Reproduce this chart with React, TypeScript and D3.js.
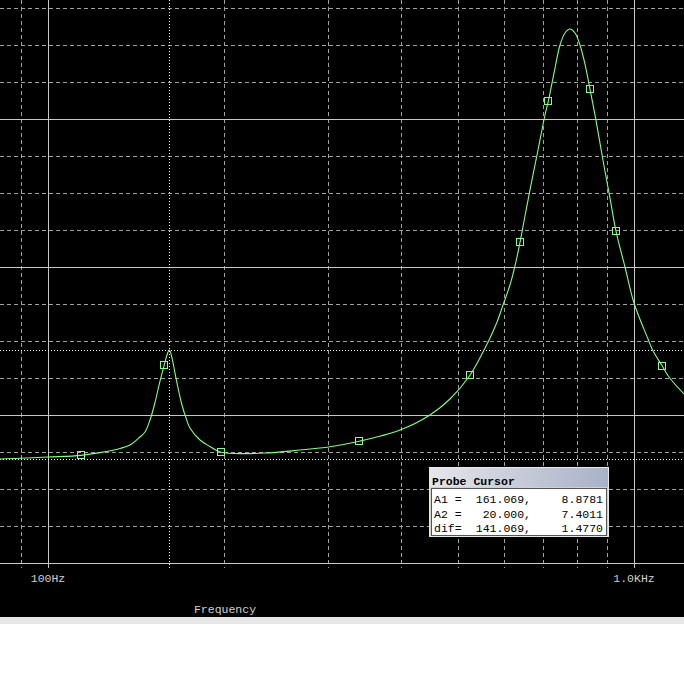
import { useEffect, useRef } from 'react';
import * as d3 from 'd3';

// trace data (Hz, value)
const freqs = [
  82.8, 100, 113.9, 122.7, 132.7, 138.0, 143.5, 146.4, 149.3, 152.2, 154.7, 157.9,
  159.6, 161.07, 162.8, 164.7, 166.7, 169.3, 172.0, 174.7, 181.7, 189.0, 197.4, 234.6,
  269.2, 302.9, 339.8, 398.8, 448.6, 485.3, 525.0, 552.5, 567.9, 583.8, 597.7, 614.3,
  626.5, 639.0, 651.6, 664.5, 685.8, 704.9, 714.2, 733.2, 747.7, 762.5, 777.7, 793.1,
  808.7, 824.8, 841.1, 861.2, 885.1, 910.0, 931.7, 965.3, 1000, 1056.6, 1077.8, 1117.7,
  1147.4, 1217.0,
];
const values = [
  7.405, 7.432, 7.455, 7.491, 7.547, 7.595, 7.703, 7.77, 7.932, 8.162, 8.405, 8.676,
  8.811, 8.878, 8.77, 8.568, 8.365, 8.135, 7.959, 7.824, 7.662, 7.574, 7.496, 7.486,
  7.527, 7.572, 7.645, 7.797, 8.0, 8.216, 8.538, 8.851, 9.041, 9.257, 9.486, 9.757,
  10.014, 10.334, 10.689, 11.041, 11.581, 12.054, 12.243, 12.689, 13.0, 13.162, 13.216, 13.162,
  13.0, 12.743, 12.405, 11.986, 11.446, 10.932, 10.486, 10.0, 9.514, 9.027, 8.865, 8.662,
  8.514, 8.284,
];
const markerFreqs = [113.9, 157.9, 197.4, 339.8, 525.0, 639.0, 714.2, 841.1, 931.7, 1117.7];

const cursorNames = ['A1', 'A2'];
const cursorFreqs = [161.069, 20.0];
const cursorValues = [8.8781, 7.4011];

const xTickFreqs = [100, 1000];
const xTickLabels = ['100Hz', '1.0KHz'];
const xTitle = 'Frequency';

const W = 684;
const H = 687;
const GREEN = '#80ff80';
const MONO = '"Liberation Mono", "DejaVu Sans Mono", monospace';

export default function App() {
  const ref = useRef<SVGSVGElement>(null);

  useEffect(() => {
    if (!ref.current) return;
    const svg = d3.select(ref.current);
    svg.selectAll('*').remove();

    const x = d3.scaleLog().domain([100, 1000]).range([48, 634]);
    const y = d3.scaleLinear().domain([6, 14]).range([563, -29]);
    const axisY = y(6);

    // window background
    svg.append('rect').attr('width', W).attr('height', 617).attr('fill', '#000');
    svg.append('rect').attr('y', 617).attr('width', W).attr('height', 7).attr('fill', '#e6e6e6');

    const grid = svg.append('g').attr('shape-rendering', 'crispEdges');

    // vertical grid, 1-2-..-9 per decade
    const gridFreqs: number[] = [];
    [10, 100, 1000].forEach(d => d3.range(1, 10).forEach(k => gridFreqs.push(k * d)));
    gridFreqs
      .filter(f => x(f) >= 0 && x(f) <= W)
      .forEach(f => {
        const major = xTickFreqs.includes(f);
        const px = Math.round(x(f)) + 0.5;
        grid.append('line')
          .attr('x1', px).attr('x2', px).attr('y1', 0).attr('y2', axisY + 5)
          .attr('stroke', major ? '#c8c8c8' : '#a0a0a0')
          .attr('stroke-dasharray', major ? null : '4,3');
      });

    // horizontal grid every 0.5, solid on even values
    d3.range(6, 14.01, 0.5).forEach(v => {
      const py = Math.round(y(v)) + 0.5;
      const major = v % 2 === 0;
      grid.append('line')
        .attr('x1', 0).attr('x2', W).attr('y1', py).attr('y2', py)
        .attr('stroke', major ? '#c8c8c8' : '#a0a0a0')
        .attr('stroke-dasharray', major ? null : '4,3');
    });

    // cursors (dotted)
    cursorFreqs.forEach((f, i) => {
      const px = Math.round(x(f)) + 0.5;
      const py = Math.round(y(cursorValues[i])) + 0.5;
      grid.append('line')
        .attr('x1', 0).attr('x2', W).attr('y1', py).attr('y2', py)
        .attr('stroke', '#fff').attr('stroke-dasharray', '1,2');
      if (px >= 0 && px <= W) {
        grid.append('line')
          .attr('x1', px).attr('x2', px).attr('y1', 0).attr('y2', axisY + 5)
          .attr('stroke', '#fff').attr('stroke-dasharray', '1,2');
      }
    });

    // tick labels + title
    xTickFreqs.forEach((f, i) => {
      svg.append('text')
        .attr('x', x(f)).attr('y', 582)
        .attr('text-anchor', 'middle')
        .attr('font-family', MONO).attr('font-size', 11.5)
        .attr('fill', '#d0d0d0')
        .text(xTickLabels[i]);
    });
    svg.append('text')
      .attr('x', 225).attr('y', 613)
      .attr('text-anchor', 'middle')
      .attr('font-family', MONO).attr('font-size', 11.5)
      .attr('fill', '#d0d0d0')
      .text(xTitle);

    // trace
    const pts = freqs.map((f, i) => [x(f), y(values[i])] as [number, number]);
    svg.append('clipPath').attr('id', 'plotclip')
      .append('rect').attr('width', W).attr('height', axisY);
    const line = d3.line().curve(d3.curveCatmullRom.alpha(0.5));
    svg.append('path')
      .attr('clip-path', 'url(#plotclip)')
      .attr('d', line(pts))
      .attr('fill', 'none')
      .attr('stroke', GREEN)
      .attr('stroke-width', 1.1);

    // symbol markers
    markerFreqs.forEach(f => {
      const i = freqs.indexOf(f);
      svg.append('rect')
        .attr('x', Math.round(x(f)) - 3.5).attr('y', Math.round(y(values[i])) - 3.5)
        .attr('width', 7).attr('height', 7)
        .attr('fill', 'none').attr('stroke', GREEN).attr('stroke-width', 1)
        .attr('shape-rendering', 'crispEdges');
    });

    // Probe Cursor window
    const box = svg.append('g').attr('shape-rendering', 'crispEdges');
    const grad = svg.append('defs').append('linearGradient').attr('id', 'titlegrad');
    grad.append('stop').attr('offset', '0%').attr('stop-color', '#e6e6ea');
    grad.append('stop').attr('offset', '100%').attr('stop-color', '#a9b1c8');

    box.append('rect').attr('x', 429.5).attr('y', 467.5).attr('width', 179).attr('height', 69)
      .attr('fill', '#d4d0c8').attr('stroke', '#e8e8e8');
    box.append('rect').attr('x', 430).attr('y', 468).attr('width', 178).attr('height', 19)
      .attr('fill', 'url(#titlegrad)');
    box.append('text')
      .attr('x', 432).attr('y', 485)
      .attr('font-family', MONO).attr('font-size', 11.5).attr('font-weight', 'bold')
      .attr('fill', '#000')
      .text('Probe Cursor');
    box.append('rect').attr('x', 431.5).attr('y', 488.5).attr('width', 175).attr('height', 47)
      .attr('fill', '#fff').attr('stroke', '#555');

    const rows = [
      { label: cursorNames[0] + ' =', f: cursorFreqs[0], v: cursorValues[0] },
      { label: cursorNames[1] + ' =', f: cursorFreqs[1], v: cursorValues[1] },
      { label: 'dif=', f: cursorFreqs[0] - cursorFreqs[1], v: cursorValues[0] - cursorValues[1] },
    ];
    rows.forEach((r, i) => {
      const by = 503 + i * 14.5;
      const t = (tx: number, anchor: string, s: string) =>
        box.append('text')
          .attr('x', tx).attr('y', by)
          .attr('text-anchor', anchor)
          .attr('font-family', MONO).attr('font-size', 11.5)
          .attr('fill', '#000')
          .text(s);
      t(434, 'start', r.label);
      t(531, 'end', d3.format('.3f')(r.f) + ',');
      t(603, 'end', d3.format('.4f')(r.v));
    });
  }, []);

  return (
    <svg
      ref={ref}
      width={W}
      height={H}
      style={{ position: 'absolute', left: 0, top: 0, background: '#fff' }}
    />
  );
}
